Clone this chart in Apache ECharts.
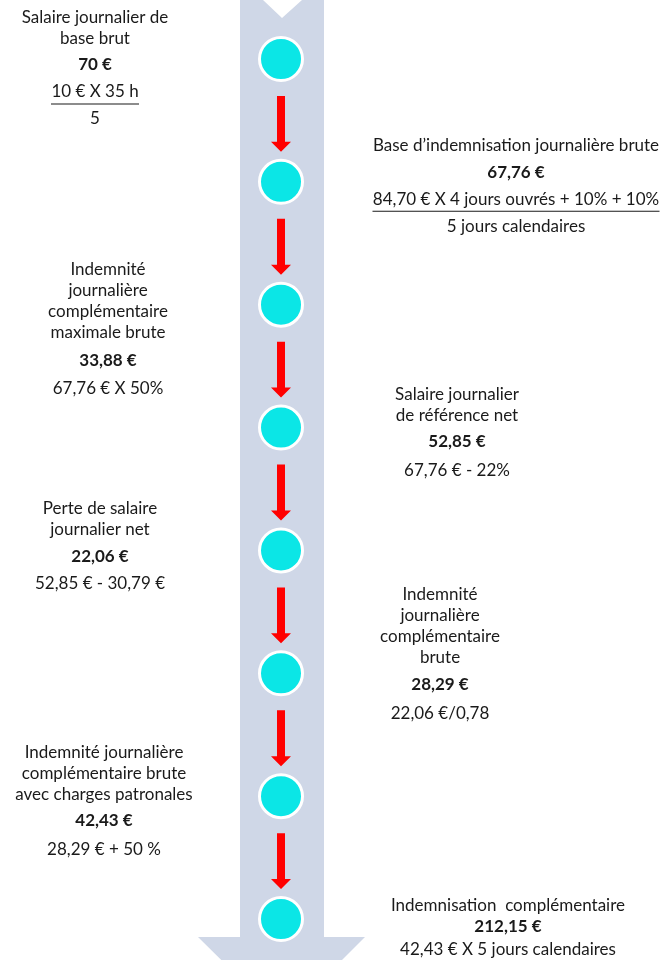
<!DOCTYPE html>
<html><head><meta charset="utf-8">
<script src="https://cdn.jsdelivr.net/npm/echarts@6/dist/echarts.min.js"></script>
<style>html,body{margin:0;padding:0;background:#fff}#c{width:668px;height:960px}</style>
</head><body><div id="c"></div>
<script>
// ---- data ----
const steps = ['1','2','3','4','5','6','7','8'];
const titles = [
  'Salaire journalier de\nbase brut',
  'Base d\u2019indemnisation journalière brute',
  'Indemnité\njournalière\ncomplémentaire\nmaximale brute',
  'Salaire journalier\nde référence net',
  'Perte de salaire\njournalier net',
  'Indemnité\njournalière\ncomplémentaire\nbrute',
  'Indemnité journalière\ncomplémentaire brute\navec charges patronales',
  'Indemnisation  complémentaire'
];
const amounts = ['70 €','67,76 €','33,88 €','52,85 €','22,06 €','28,29 €','42,43 €','212,15 €'];
const formulas = [
  '10 € X 35 h',
  '84,70 € X 4 jours ouvrés + 10% + 10%',
  '67,76 € X 50%',
  '67,76 € - 22%',
  '52,85 € - 30,79 €',
  '22,06 €/0,78',
  '28,29 € + 50 %',
  '42,43 € X 5 jours calendaires'
];
const divisors = ['5','5 jours calendaires','','','','','',''];
const sides = ['left','right','left','right','left','right','left','right'];

// ---- layout (not data) ----
const labelDX = [-186, 235, -173, 176, -181, 159, -177, 227];
const labelDY = [11, 6, 24, 6, -4, -18, 6, 10];
const boldLH = [32, 32, 36, 32, 32, 32, 32, 21];
const formLH = [22, 22, 20, 26, 22, 26, 26, 25];

const FONT = 'Lato';
const FS = 17;
const TXT = '#1a1a1a';
const cv = document.createElement('canvas').getContext('2d');
cv.font = FS + 'px ' + FONT;
function tw(s){ return cv.measureText(s).width; }

const chart = echarts.init(document.getElementById('c'));

const scatterData = steps.map((s, i) => {
  const lines = titles[i].split('\n').map(l => '{t|' + l + '}');
  let str = lines.join('\n') + '\n{b|' + amounts[i] + '}\n';
  const rich = {
    t: {fontSize: FS, fontFamily: FONT, color: TXT, lineHeight: 21},
    b: {fontSize: FS, fontFamily: FONT, fontWeight: 'bold', color: TXT, lineHeight: boldLH[i]},
    f: {fontSize: FS, fontFamily: FONT, color: TXT, lineHeight: formLH[i]},
    ul: {fontSize: 1, width: Math.round(tw(formulas[i])) + 1, height: 1, lineHeight: 2, backgroundColor: TXT},
    d: {fontSize: FS, fontFamily: FONT, color: TXT, lineHeight: 28}
  };
  if (divisors[i]) {
    str += '{f|' + formulas[i] + '}\n{ul| }\n{d|' + divisors[i] + '}';
  } else {
    str += '{f|' + formulas[i] + '}';
  }
  return {
    value: [0, s],
    label: {
      show: true, position: 'inside', align: 'center', verticalAlign: 'middle',
      offset: [labelDX[i], labelDY[i]],
      formatter: str, rich: rich
    }
  };
});

const option = {
  animation: false,
  backgroundColor: '#fff',
  grid: {left: 0, width: 562, top: 59, bottom: 41},
  xAxis: {type: 'value', min: -1, max: 1, show: false},
  yAxis: {type: 'category', data: steps, inverse: true, boundaryGap: false, show: false},
  graphic: [{
    type: 'polygon', z: -10, silent: true,
    shape: {points: [[240,0],[263,0],[282,18],[302,0],[324,0],[324,937],[365,937],[282,1020],[198,937],[240,937]]},
    style: {fill: '#CFD7E7'}
  }],
  series: [
    {
      type: 'custom',
      data: steps.slice(0, -1).map((s, i) => [i]),
      renderItem: function (params, api) {
        const i = api.value(0);
        const p1 = api.coord([0, steps[i]]);
        const p2 = api.coord([0, steps[i + 1]]);
        const x = p1[0];
        const y0 = p1[1] + 37, y1 = p2[1] - 30;
        const hw = 4, hh = 10, hwh = 10;
        return {
          type: 'polygon',
          shape: {points: [[x-hw,y0],[x+hw,y0],[x+hw,y1-hh],[x+hwh,y1-hh],[x,y1],[x-hwh,y1-hh],[x-hw,y1-hh]]},
          style: {fill: '#FF0000'}
        };
      },
      z: 2
    },
    {
      type: 'scatter',
      symbol: 'circle',
      symbolSize: 43,
      itemStyle: {color: '#0BE6E6', borderColor: '#ffffff', borderWidth: 3, opacity: 1},
      data: scatterData,
      z: 3
    }
  ]
};
chart.setOption(option);
</script>
</body></html>
